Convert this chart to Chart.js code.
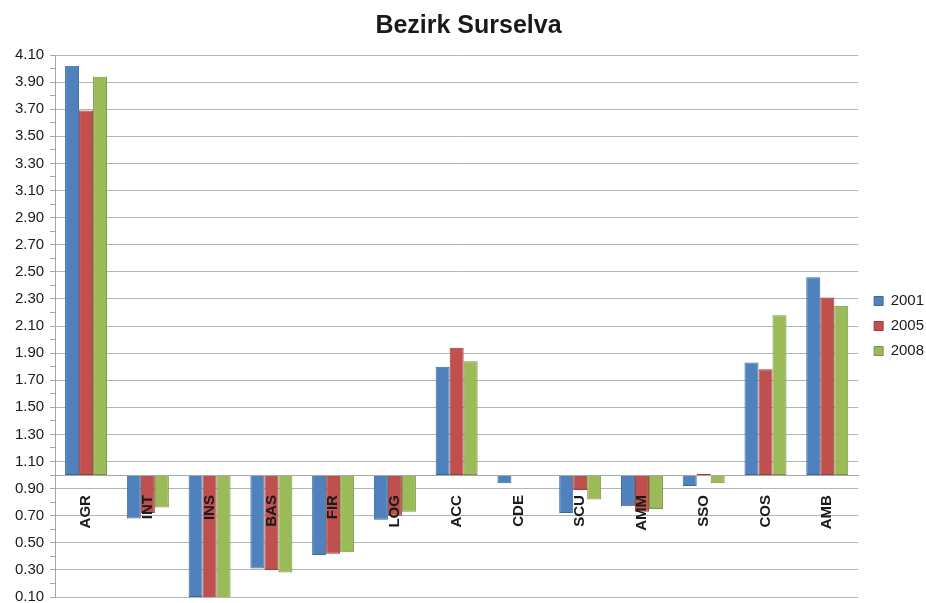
<!DOCTYPE html>
<html>
<head>
<meta charset="utf-8">
<script src="https://cdn.jsdelivr.net/npm/chart.js@4/dist/chart.umd.min.js"></script>
<style>
  html, body { margin: 0; padding: 0; background: #fff; overflow: hidden; }
  #wrap { width: 926px; height: 603px; position: relative; overflow: hidden; }
</style>
</head>
<body>
<div id="wrap"><canvas id="c" width="926" height="612"></canvas></div>
<script>
// Sector index values per year (1.00 = Swiss average)
const categories = ['AGR', 'INT', 'INS', 'BAS', 'FIR', 'LOG', 'ACC', 'CDE', 'SCU', 'AMM', 'SSO', 'COS', 'AMB'];
const values2001 = [4.02, 0.68, 0.10, 0.31, 0.41, 0.67, 1.80, 0.94, 0.72, 0.77, 0.92, 1.83, 2.46];
const values2005 = [3.69, 0.72, 0.09, 0.30, 0.42, 0.70, 1.94, 1.00, 0.89, 0.73, 1.01, 1.78, 2.31];
const values2008 = [3.94, 0.76, 0.09, 0.28, 0.43, 0.73, 1.84, 1.00, 0.82, 0.75, 0.94, 2.18, 2.25];
const seriesNames = ['2001', '2005', '2008'];
const baseline = 1.0;

const FONT = '"Liberation Sans", Arial, sans-serif';

function isMajor(v) {
  return Math.round(v * 10) % 2 === 1;
}

// Nudge the legend block to the right, away from the plot area
const legendOffset = {
  id: 'legendOffset',
  afterLayout(chart) {
    const lg = chart.legend;
    if (lg) { lg.left += 6; lg.right += 6; }
  }
};

new Chart(document.getElementById('c'), {
  type: 'bar',
  data: {
    labels: categories,
    datasets: [
      { label: seriesNames[0], data: values2001, base: baseline,
        backgroundColor: '#4f81bd', borderColor: '#3d6899', borderWidth: 1 },
      { label: seriesNames[1], data: values2005, base: baseline,
        backgroundColor: '#c0504d', borderColor: '#9b3c3a', borderWidth: 1 },
      { label: seriesNames[2], data: values2008, base: baseline,
        backgroundColor: '#9bbb59', borderColor: '#779443', borderWidth: 1 }
    ]
  },
  plugins: [legendOffset],
  options: {
    responsive: false,
    animation: false,
    layout: { padding: { left: 9, right: -2, top: 0, bottom: 0 } },
    datasets: {
      bar: { categoryPercentage: 0.68, barPercentage: 1.0, borderSkipped: false }
    },
    plugins: {
      title: {
        display: true,
        text: 'Bezirk Surselva',
        color: '#1a1a1a',
        font: { family: FONT, size: 25, weight: 'bold' },
        padding: { top: 11, bottom: 14 }
      },
      legend: {
        position: 'right',
        fullSize: false,
        labels: {
          color: '#1a1a1a',
          font: { family: FONT, size: 15 },
          boxWidth: 9,
          boxHeight: 9,
          padding: 10
        }
      },
      tooltip: { enabled: false }
    },
    scales: {
      x: {
        position: { y: baseline },
        grid: { display: false },
        border: { display: true, color: '#a6a6a6', width: 1, z: 1 },
        ticks: {
          z: 1,
          autoSkip: false,
          minRotation: 90,
          maxRotation: 90,
          padding: 12,
          color: '#1a1a1a',
          font: { family: FONT, size: 15, weight: 'bold' }
        }
      },
      y: {
        min: 0.1,
        max: 4.1,
        border: { display: true, color: '#a6a6a6', width: 1 },
        grid: {
          color: (ctx) => (ctx.tick && isMajor(ctx.tick.value)) ? '#b4b4b4' : 'rgba(0,0,0,0)',
          tickColor: '#a6a6a6',
          tickLength: 5,
          lineWidth: 1
        },
        ticks: {
          stepSize: 0.1,
          autoSkip: false,
          padding: 6,
          color: '#1a1a1a',
          font: { family: FONT, size: 15 },
          callback: (v) => isMajor(v) ? (Math.round(v * 100) / 100).toFixed(2) : ''
        }
      }
    }
  }
});
</script>
</body>
</html>
